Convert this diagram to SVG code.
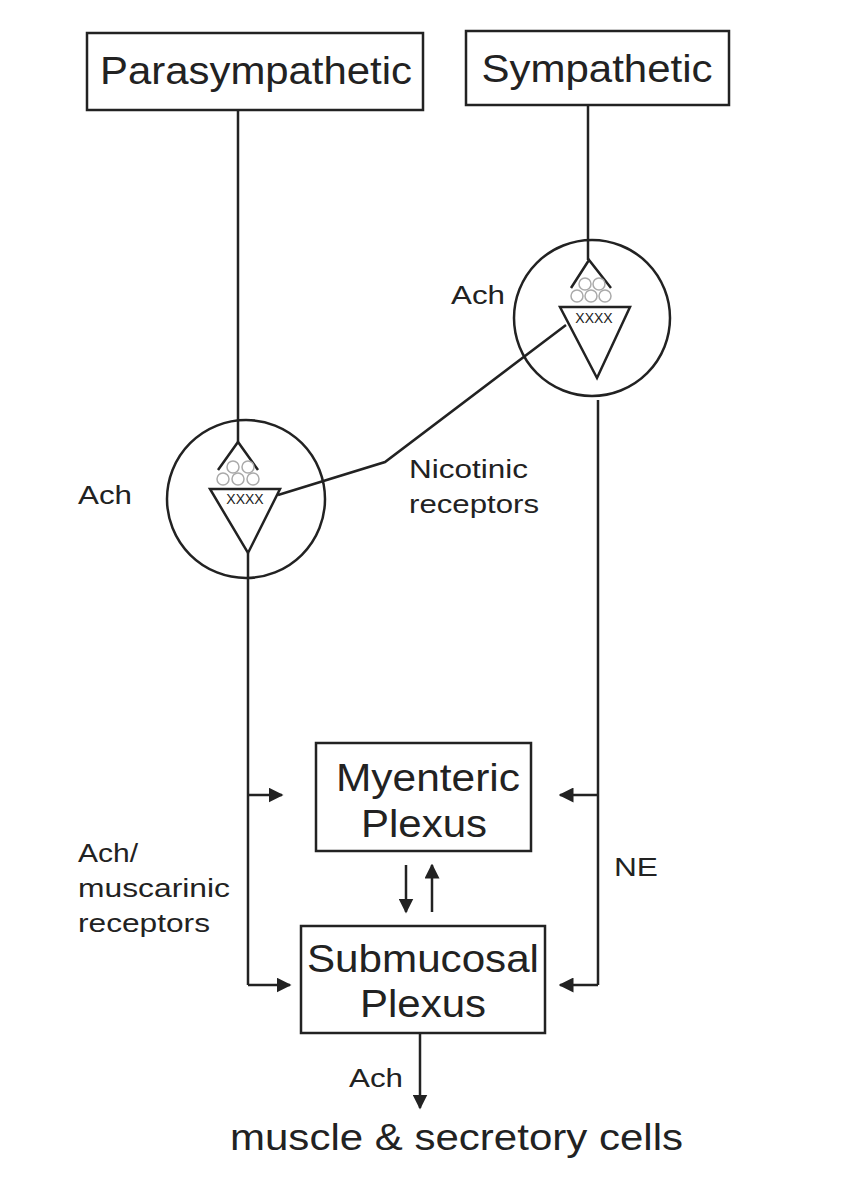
<svg xmlns="http://www.w3.org/2000/svg" width="852" height="1200" viewBox="0 0 852 1200">
<style>
.b{fill:#fff;stroke:#222;stroke-width:2.5}
.l{fill:none;stroke:#222;stroke-width:2.5}
.v{fill:#fff;stroke:#aaa;stroke-width:1.5}
text{font-family:"Liberation Sans",Arial,sans-serif;fill:#222}
.t{font-size:38px;text-anchor:middle}
.s{font-size:26px}
</style>
<defs><marker id="a" viewBox="0 0 10 10" refX="9" refY="5" markerWidth="6" markerHeight="6" orient="auto" markerUnits="strokeWidth"><path d="M0,0L10,5L0,10z" fill="#222"/></marker></defs>
<rect width="852" height="1200" fill="#fff"/>
<g id="connectors">
<path class="l" d="M238,110V442"/>
<path class="l" d="M588,105V260"/>
<path class="l" d="M278,495L385,462L566,325"/>
<path class="l" d="M248,553V985"/>
<path class="l" d="M598,400V985"/>
<path class="l" d="M248,795H282" marker-end="url(#a)"/>
<path class="l" d="M248,985H290" marker-end="url(#a)"/>
<path class="l" d="M598,795H560" marker-end="url(#a)"/>
<path class="l" d="M598,985H560" marker-end="url(#a)"/>
<path class="l" d="M406,865V912" marker-end="url(#a)"/>
<path class="l" d="M432,912V865" marker-end="url(#a)"/>
<path class="l" d="M420,1033V1108" marker-end="url(#a)"/>
</g>
<g id="para"><rect class="b" x="87" y="33" width="336" height="77"/><text class="t" x="256" y="84" textLength="312" lengthAdjust="spacingAndGlyphs">Parasympathetic</text></g>
<g id="symp"><rect class="b" x="466" y="31" width="263" height="74"/><text class="t" x="597" y="82" textLength="231" lengthAdjust="spacingAndGlyphs">Sympathetic</text></g>
<g id="ganglion1">
<circle class="l" cx="246" cy="499" r="79"/>
<path class="l" d="M218,470L238,442L258,470"/>
<circle class="v" cx="233" cy="467" r="6"/><circle class="v" cx="248" cy="467" r="6"/>
<circle class="v" cx="223" cy="479" r="6"/><circle class="v" cx="238" cy="479" r="6"/><circle class="v" cx="253" cy="479" r="6"/>
<path class="l" d="M210,489H280L248,553Z"/>
<text x="245" y="504" font-size="14" text-anchor="middle">XXXX</text>
</g>
<g id="ganglion2">
<circle class="l" cx="592" cy="318" r="78"/>
<path class="l" d="M571,288L589,260L611,288"/>
<circle class="v" cx="585" cy="284" r="6"/><circle class="v" cx="599" cy="284" r="6"/>
<circle class="v" cx="577" cy="296" r="6"/><circle class="v" cx="591" cy="296" r="6"/><circle class="v" cx="605" cy="296" r="6"/>
<path class="l" d="M560,307H630L597,378Z"/>
<text x="594" y="323" font-size="14" text-anchor="middle">XXXX</text>
</g>
<g id="myenteric"><rect class="b" x="316" y="743" width="215" height="108"/><text class="t" x="428" y="791" textLength="184" lengthAdjust="spacingAndGlyphs">Myenteric</text><text class="t" x="424" y="837" textLength="126" lengthAdjust="spacingAndGlyphs">Plexus</text></g>
<g id="submucosal"><rect class="b" x="301" y="926" width="244" height="107"/><text class="t" x="423" y="972" textLength="232" lengthAdjust="spacingAndGlyphs">Submucosal</text><text class="t" x="423" y="1017" textLength="126" lengthAdjust="spacingAndGlyphs">Plexus</text></g>
<g id="labels">
<text class="s" x="451" y="304" textLength="54" lengthAdjust="spacingAndGlyphs">Ach</text>
<text class="s" x="78" y="504" textLength="54" lengthAdjust="spacingAndGlyphs">Ach</text>
<text class="s" x="409" y="478" textLength="119" lengthAdjust="spacingAndGlyphs">Nicotinic</text>
<text class="s" x="409" y="513" textLength="130" lengthAdjust="spacingAndGlyphs">receptors</text>
<text class="s" x="78" y="862" textLength="60" lengthAdjust="spacingAndGlyphs">Ach/</text>
<text class="s" x="78" y="897" textLength="152" lengthAdjust="spacingAndGlyphs">muscarinic</text>
<text class="s" x="78" y="932" textLength="132" lengthAdjust="spacingAndGlyphs">receptors</text>
<text class="s" x="614" y="876" textLength="44" lengthAdjust="spacingAndGlyphs">NE</text>
<text class="s" x="349" y="1087" textLength="54" lengthAdjust="spacingAndGlyphs">Ach</text>
<text x="230" y="1150" font-size="36" textLength="453" lengthAdjust="spacingAndGlyphs">muscle &amp; secretory cells</text>
</g>
</svg>
